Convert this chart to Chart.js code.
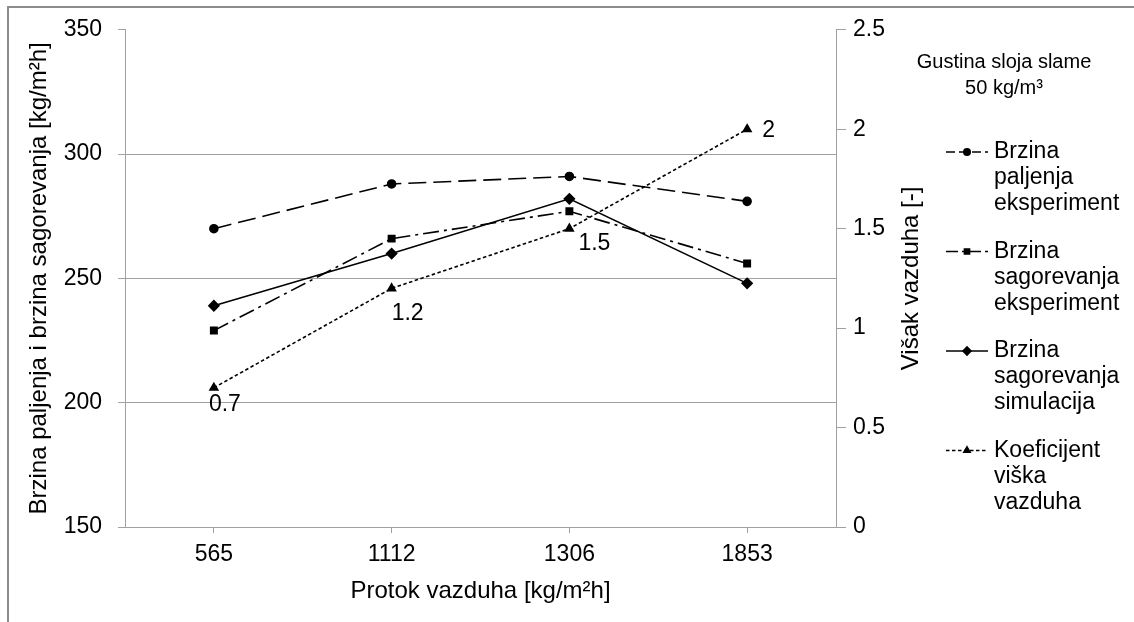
<!DOCTYPE html>
<html>
<head>
<meta charset="utf-8">
<script src="https://cdn.jsdelivr.net/npm/chart.js@4.4.1/dist/chart.umd.min.js"></script>
<style>
  body { margin: 0; background: #fff; }
  #wrap { position: relative; width: 1134px; height: 622px; overflow: hidden; background: #fff; }
  #frame { position: absolute; left: 7px; top: 6px; width: 1300px; height: 800px; border-left: 2px solid #8c8c8c; border-top: 2px solid #8c8c8c; }
  canvas { position: absolute; left: 0; top: 0; }
</style>
</head>
<body>
<div id="wrap">
  <div id="frame"></div>
  <canvas id="myCanvas" width="1134" height="622"></canvas>
</div>
<script>
// podaci
const protok = ['565', '1112', '1306', '1853'];
const paljenjeEksperiment = [270, 288, 291, 281];
const sagorevanjeEksperiment = [229, 266, 277, 256];
const sagorevanjeSimulacija = [239, 260, 282, 248];
const koeficijentVazduha = [0.7, 1.2, 1.5, 2];

const legendTexts = [
    ['Brzina', 'paljenja', 'eksperiment'],
    ['Brzina', 'sagorevanja', 'eksperiment'],
    ['Brzina', 'sagorevanja', 'simulacija'],
    ['Koeficijent', 'viška', 'vazduha']
];
const heading = ['Gustina sloja slame', '50 kg/m³'];

// pomeraji natpisa za koeficijent (u pikselima)
const labelOffsets = [[-5, 17], [0, 25], [9, 15], [15, 1]];
// crtice u legendi (kraci uzorak nego na grafiku)
const legendDash = [[9, 4], [12, 4, 3, 4], [], [3.5, 2.5]];

const FONT = 'Liberation Sans, Arial, sans-serif';
const GRID = '#a0a0a0';

const extras = {
    id: 'extras',
    afterDatasetsDraw(chart) {
        const ctx = chart.ctx;
        const area = chart.chartArea;
        ctx.save();
        ctx.fillStyle = '#000';

        // natpisi uz tacke koeficijenta
        const meta = chart.getDatasetMeta(3);
        ctx.font = '23px ' + FONT;
        ctx.textAlign = 'left';
        ctx.textBaseline = 'middle';
        meta.data.forEach((pt, i) => {
            ctx.fillText(String(koeficijentVazduha[i]), pt.x + labelOffsets[i][0], pt.y + labelOffsets[i][1]);
        });

        // naslov desne ose
        ctx.save();
        ctx.translate(911, (area.top + area.bottom) / 2);
        ctx.rotate(-Math.PI / 2);
        ctx.textAlign = 'center';
        ctx.font = '24px ' + FONT;
        ctx.fillText('Višak vazduha [-]', 0, 0);
        ctx.restore();

        // naslov legende
        ctx.textAlign = 'center';
        ctx.font = '20px ' + FONT;
        ctx.fillText(heading[0], 1004, 62);
        ctx.fillText(heading[1], 1004, 88);

        // legenda
        chart.data.datasets.forEach((ds, i) => {
            const y = 152 + i * 99.5;
            ctx.save();
            ctx.strokeStyle = '#000';
            ctx.lineWidth = ds.borderWidth;
            ctx.setLineDash(legendDash[i]);
            ctx.beginPath();
            ctx.moveTo(946, y);
            ctx.lineTo(988, y);
            ctx.stroke();
            ctx.setLineDash([]);
            Chart.helpers.drawPoint(ctx, {
                pointStyle: ds.pointStyle,
                radius: ds.pointRadius * 0.8,
                borderWidth: 1
            }, 967, y);
            ctx.restore();
            ctx.textAlign = 'left';
            ctx.font = '23px ' + FONT;
            legendTexts[i].forEach((line, j) => {
                ctx.fillText(line, 994, y + j * 26);
            });
        });
        ctx.restore();
    }
};

const commonDs = {
    borderColor: '#000',
    backgroundColor: '#000',
    pointBackgroundColor: '#000',
    pointBorderColor: '#000',
    borderWidth: 1.6,
    fill: false,
    tension: 0
};

new Chart(document.getElementById('myCanvas'), {
    type: 'line',
    data: {
        labels: protok,
        datasets: [
            { ...commonDs, label: legendTexts[0].join(' '), data: paljenjeEksperiment, borderDash: [18, 7], pointStyle: 'circle', pointRadius: 4, yAxisID: 'y' },
            { ...commonDs, label: legendTexts[1].join(' '), data: sagorevanjeEksperiment, borderDash: [16, 5, 3, 5], pointStyle: 'rect', pointRadius: 4.5, yAxisID: 'y' },
            { ...commonDs, label: legendTexts[2].join(' '), data: sagorevanjeSimulacija, borderDash: [], pointStyle: 'rectRot', pointRadius: 5, yAxisID: 'y' },
            { ...commonDs, label: legendTexts[3].join(' '), data: koeficijentVazduha, borderDash: [3.5, 2.5], pointStyle: 'triangle', pointRadius: 4.5, yAxisID: 'y1' }
        ]
    },
    options: {
        responsive: false,
        animation: false,
        layout: { padding: { left: 0, top: 26, right: 228, bottom: 0 } },
        plugins: {
            legend: { display: false },
            title: { display: false },
            tooltip: { enabled: false }
        },
        scales: {
            x: {
                offset: true,
                afterFit: s => { s.height = 95; },
                grid: { drawOnChartArea: false, tickLength: 6, color: GRID },
                border: { color: GRID },
                ticks: { color: '#000', padding: 8, font: { family: FONT, size: 23 } },
                title: { display: true, text: 'Protok vazduha [kg/m²h]', color: '#000', padding: { top: 0, bottom: 16 }, font: { family: FONT, size: 24 } }
            },
            y: {
                position: 'left',
                min: 150,
                max: 350,
                afterFit: s => { s.width = 125; },
                ticks: { stepSize: 50, color: '#000', padding: 16, font: { family: FONT, size: 23 } },
                grid: {
                    tickLength: 7,
                    tickColor: GRID,
                    color: c => (c.tick && (c.tick.value === 350 || c.tick.value === 150)) ? 'rgba(0,0,0,0)' : GRID
                },
                border: { color: GRID },
                title: { display: true, text: 'Brzina paljenja i brzina sagorevanja [kg/m²h]', color: '#000', padding: { top: 25, bottom: 0 }, font: { family: FONT, size: 24 } }
            },
            y1: {
                position: 'right',
                min: 0,
                max: 2.5,
                afterFit: s => { s.width = 70; },
                ticks: { stepSize: 0.5, color: '#000', padding: 7, font: { family: FONT, size: 23 }, callback: v => String(v) },
                grid: { drawOnChartArea: false, tickLength: 10, color: GRID },
                border: { color: GRID }
            }
        }
    },
    plugins: [extras]
});
</script>
</body>
</html>
